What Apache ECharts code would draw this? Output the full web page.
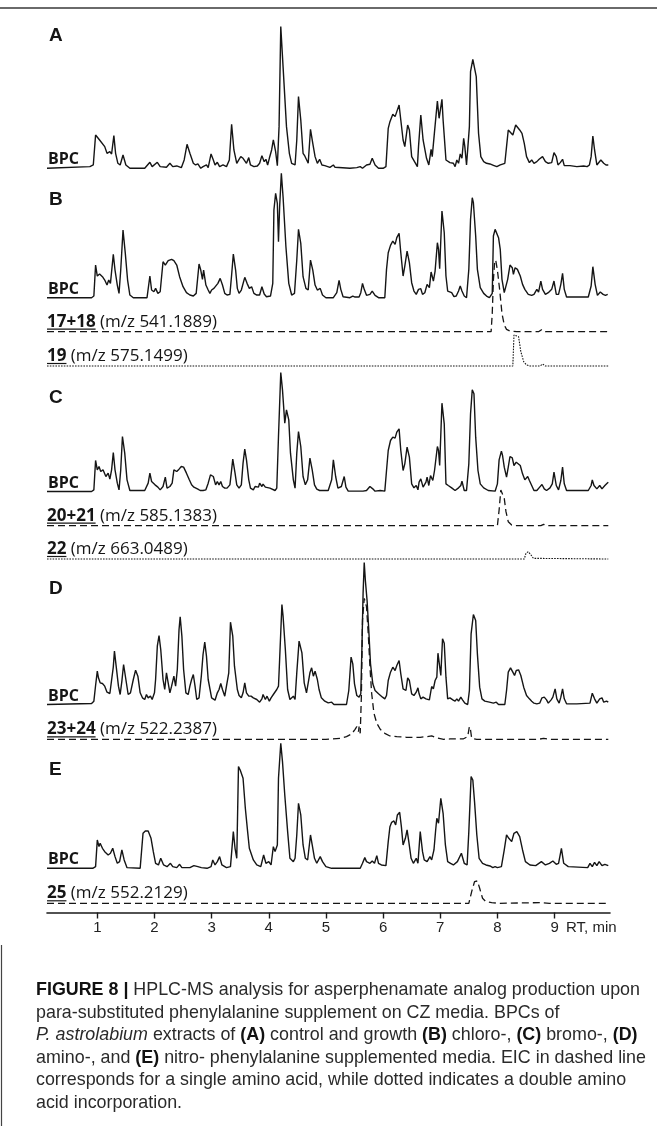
<!DOCTYPE html>
<html><head><meta charset="utf-8">
<script src="https://cdn.jsdelivr.net/npm/echarts@6/dist/echarts.min.js"></script>
<style>html,body{margin:0;padding:0;background:#fff}#c{width:657px;height:1126px}</style>
</head><body><div id="c"></div>
<script>
// ---------- DATA: [retention time (min), relative intensity (a.u.)] ----------
const bpcA = [[0.12,0],[0.87,5],[0.93,10],[0.97,100],[1.04,85],[1.13,65],[1.17,45],[1.22,50],[1.25,43],[1.29,98],[1.32,45],[1.36,15],[1.40,10],[1.45,40],[1.50,10],[1.57,0],[1.83,0],[1.92,18],[1.96,5],[2.05,18],[2.10,5],[2.21,3],[2.27,15],[2.32,5],[2.39,7],[2.47,2],[2.52,25],[2.57,72],[2.62,45],[2.68,15],[2.72,10],[2.76,13],[2.81,0],[2.85,5],[2.91,10],[2.94,2],[2.99,43],[3.03,25],[3.06,10],[3.10,18],[3.14,5],[3.20,10],[3.26,5],[3.31,25],[3.35,132],[3.39,55],[3.44,15],[3.48,27],[3.51,35],[3.55,30],[3.58,33],[3.61,15],[3.65,32],[3.68,10],[3.74,5],[3.80,7],[3.84,15],[3.88,38],[3.92,20],[3.95,27],[3.98,10],[4.01,30],[4.05,55],[4.08,85],[4.12,50],[4.15,8],[4.18,125],[4.21,425],[4.25,305],[4.31,125],[4.36,45],[4.40,15],[4.46,10],[4.49,85],[4.52,215],[4.56,145],[4.60,45],[4.63,37],[4.66,40],[4.69,15],[4.73,117],[4.77,75],[4.81,35],[4.85,15],[4.89,27],[4.93,10],[4.98,8],[5.07,3],[5.13,10],[5.16,3],[5.42,0],[5.54,2],[5.60,5],[5.64,0],[5.71,10],[5.74,5],[5.77,12],[5.81,30],[5.86,10],[5.92,0],[6.00,0],[6.05,5],[6.09,120],[6.12,140],[6.17,162],[6.21,155],[6.24,170],[6.28,190],[6.31,145],[6.35,85],[6.38,65],[6.43,130],[6.46,115],[6.50,35],[6.56,17],[6.60,5],[6.62,65],[6.66,160],[6.70,85],[6.76,30],[6.80,10],[6.84,57],[6.86,35],[6.90,110],[6.93,115],[6.95,202],[6.98,150],[7.03,207],[7.05,145],[7.10,25],[7.17,17],[7.23,15],[7.26,5],[7.29,25],[7.32,15],[7.35,43],[7.38,30],[7.41,90],[7.43,65],[7.46,10],[7.49,15],[7.51,125],[7.53,290],[7.57,327],[7.60,325],[7.63,275],[7.67,105],[7.71,35],[7.76,20],[7.81,15],[7.87,13],[7.93,9],[7.99,5],[8.05,10],[8.13,15],[8.16,65],[8.19,115],[8.22,120],[8.27,100],[8.32,130],[8.39,115],[8.43,105],[8.47,75],[8.51,35],[8.56,17],[8.60,25],[8.64,15],[8.69,20],[8.73,27],[8.79,35],[8.84,20],[8.89,15],[8.95,17],[8.99,47],[9.03,35],[9.06,10],[9.10,17],[9.14,27],[9.17,8],[9.27,8],[9.39,5],[9.51,7],[9.57,5],[9.61,10],[9.64,35],[9.67,97],[9.70,55],[9.74,10],[9.77,10],[9.81,25],[9.86,15],[9.90,10],[9.94,10]];

const bpcB = [[0.12,0],[0.9,0],[0.94,5],[0.97,98],[1.0,65],[1.04,71],[1.09,63],[1.13,53],[1.17,38],[1.2,53],[1.23,43],[1.25,78],[1.28,130],[1.31,83],[1.35,38],[1.38,13],[1.41,83],[1.45,203],[1.49,133],[1.53,53],[1.57,8],[1.63,0],[1.87,0],[1.92,65],[1.95,23],[1.99,18],[2.02,28],[2.06,13],[2.1,18],[2.15,108],[2.19,98],[2.24,111],[2.3,115],[2.34,111],[2.39,98],[2.44,63],[2.5,33],[2.56,15],[2.62,8],[2.68,5],[2.73,13],[2.78,101],[2.81,83],[2.84,55],[2.86,83],[2.9,38],[2.94,23],[2.97,13],[3.0,23],[3.04,28],[3.07,33],[3.11,43],[3.15,58],[3.19,38],[3.23,13],[3.27,8],[3.32,10],[3.35,68],[3.38,131],[3.42,83],[3.45,28],[3.48,13],[3.52,23],[3.58,61],[3.62,43],[3.66,28],[3.7,33],[3.74,13],[3.79,8],[3.84,8],[3.88,33],[3.92,11],[3.96,3],[4.03,5],[4.07,43],[4.09,263],[4.12,313],[4.15,283],[4.17,168],[4.19,273],[4.22,373],[4.25,303],[4.3,153],[4.35,43],[4.4,8],[4.45,13],[4.49,113],[4.52,205],[4.56,163],[4.6,63],[4.65,28],[4.69,23],[4.73,113],[4.77,83],[4.81,38],[4.85,23],[4.9,28],[4.94,8],[5.0,0],[5.13,0],[5.19,15],[5.23,52],[5.26,25],[5.3,3],[5.42,0],[5.47,5],[5.51,2],[5.58,2],[5.61,15],[5.64,43],[5.67,25],[5.71,7],[5.77,10],[5.81,20],[5.86,7],[5.92,0],[6.03,0],[6.06,85],[6.09,135],[6.13,157],[6.17,170],[6.21,160],[6.24,180],[6.28,193],[6.31,135],[6.35,65],[6.38,95],[6.42,140],[6.46,105],[6.5,45],[6.54,20],[6.58,10],[6.62,25],[6.66,27],[6.69,10],[6.73,15],[6.77,40],[6.81,30],[6.84,77],[6.88,50],[6.91,80],[6.95,165],[6.97,145],[6.99,87],[7.03,260],[7.07,195],[7.1,65],[7.13,20],[7.2,15],[7.24,3],[7.28,5],[7.32,20],[7.35,35],[7.38,20],[7.42,5],[7.46,0],[7.5,85],[7.53,235],[7.56,300],[7.58,285],[7.62,185],[7.65,85],[7.7,30],[7.76,13],[7.81,5],[7.86,0],[7.91,13],[7.93,185],[7.96,205],[7.99,202],[8.02,180],[8.05,145],[8.08,55],[8.12,15],[8.15,10],[8.18,55],[8.22,98],[8.26,90],[8.28,70],[8.31,90],[8.35,85],[8.4,65],[8.44,40],[8.48,25],[8.54,10],[8.6,7],[8.64,10],[8.69,25],[8.72,17],[8.76,50],[8.79,25],[8.84,10],[8.89,15],[8.95,25],[8.99,50],[9.03,10],[9.07,10],[9.11,40],[9.14,73],[9.17,25],[9.21,2],[9.39,2],[9.59,2],[9.64,35],[9.67,93],[9.71,40],[9.75,7],[9.8,17],[9.85,10],[9.89,7],[9.93,10]];

const eic1718 = [[0.12,0],[7.89,0],[7.91,55],[7.93,155],[7.95,205],[7.97,215],[8.0,185],[8.04,125],[8.08,55],[8.12,20],[8.16,7],[8.22,2],[8.34,0],[8.72,0],[8.78,7],[8.84,0],[9.94,0]];
const eic19 = [[0.12,0],[8.27,0],[8.29,93],[8.32,98],[8.37,88],[8.41,43],[8.46,13],[8.51,3],[8.57,0],[8.75,0],[8.79,6],[8.84,0],[9.94,0]];

const bpcC = [[0.12,0],[0.9,0],[0.94,5],[0.97,93],[1.0,65],[1.03,75],[1.06,60],[1.1,65],[1.15,45],[1.19,55],[1.22,37],[1.25,65],[1.28,117],[1.31,65],[1.35,25],[1.38,5],[1.41,65],[1.44,165],[1.48,115],[1.52,35],[1.57,3],[1.83,3],[1.89,25],[1.92,55],[1.95,30],[2.01,20],[2.06,13],[2.1,5],[2.15,15],[2.19,43],[2.22,10],[2.27,15],[2.31,25],[2.34,65],[2.39,60],[2.43,67],[2.47,75],[2.51,73],[2.56,55],[2.61,35],[2.65,20],[2.69,13],[2.72,17],[2.76,7],[2.8,3],[2.85,3],[2.9,5],[2.94,25],[2.98,50],[3.03,45],[3.07,20],[3.1,30],[3.13,20],[3.16,30],[3.19,15],[3.23,10],[3.27,10],[3.32,20],[3.35,65],[3.37,97],[3.41,55],[3.44,20],[3.48,10],[3.52,20],[3.55,85],[3.58,127],[3.61,95],[3.65,35],[3.68,10],[3.73,5],[3.76,15],[3.79,20],[3.82,13],[3.84,25],[3.88,15],[3.9,22],[3.94,13],[3.97,15],[4.02,10],[4.11,3],[4.14,10],[4.17,165],[4.21,357],[4.24,305],[4.28,205],[4.31,245],[4.35,215],[4.38,115],[4.43,35],[4.46,10],[4.49,115],[4.52,180],[4.56,135],[4.6,45],[4.64,20],[4.68,35],[4.72,100],[4.76,65],[4.8,20],[4.84,7],[4.89,3],[5.04,3],[5.1,35],[5.13,95],[5.17,45],[5.21,10],[5.27,15],[5.32,45],[5.35,13],[5.39,1],[5.51,1],[5.65,1],[5.71,3],[5.77,15],[5.82,8],[5.86,1],[5.95,3],[6.03,1],[6.06,63],[6.09,123],[6.13,153],[6.17,163],[6.21,160],[6.24,178],[6.28,188],[6.31,123],[6.35,63],[6.38,83],[6.42,133],[6.46,103],[6.5,23],[6.54,11],[6.58,18],[6.61,5],[6.63,28],[6.66,38],[6.7,13],[6.75,28],[6.77,43],[6.8,18],[6.83,48],[6.87,33],[6.9,63],[6.93,65],[6.95,135],[6.97,123],[6.99,78],[7.03,265],[7.07,203],[7.1,23],[7.14,18],[7.2,11],[7.26,3],[7.32,11],[7.36,18],[7.38,31],[7.42,3],[7.46,3],[7.5,83],[7.53,233],[7.56,305],[7.59,293],[7.62,163],[7.66,63],[7.7,23],[7.76,11],[7.84,3],[7.96,1],[8.0,23],[8.03,95],[8.07,121],[8.09,108],[8.12,73],[8.16,43],[8.19,73],[8.22,105],[8.26,101],[8.29,78],[8.33,88],[8.36,93],[8.4,78],[8.44,53],[8.48,35],[8.53,45],[8.56,33],[8.6,18],[8.64,3],[8.69,3],[8.74,13],[8.78,21],[8.82,8],[8.86,3],[8.92,11],[8.96,23],[8.99,58],[9.03,18],[9.07,5],[9.11,33],[9.14,73],[9.17,23],[9.21,3],[9.39,3],[9.59,3],[9.64,18],[9.66,35],[9.69,18],[9.74,8],[9.79,18],[9.83,8],[9.88,18],[9.92,25],[9.94,28]];

const eic2021 = [[0.12,0],[8.0,0],[8.03,47],[8.06,107],[8.09,105],[8.12,82],[8.15,42],[8.19,12],[8.25,2],[8.31,0],[8.76,0],[8.81,4],[8.86,0],[9.94,0]];
const eic22 = [[0.12,0],[8.47,0],[8.5,17],[8.54,22],[8.58,14],[8.63,2],[8.66,0],[9.94,0]];

const bpcD = [[0.12,0],[0.9,3],[0.94,10],[0.97,57],[1.0,100],[1.02,80],[1.05,65],[1.09,63],[1.13,55],[1.17,37],[1.22,33],[1.25,35],[1.28,113],[1.3,160],[1.33,115],[1.37,55],[1.4,30],[1.43,70],[1.46,120],[1.5,75],[1.54,30],[1.58,35],[1.63,75],[1.67,103],[1.71,85],[1.75,35],[1.79,20],[1.83,15],[1.86,30],[1.89,20],[1.93,25],[1.96,15],[2.0,35],[2.02,75],[2.05,175],[2.08,207],[2.11,165],[2.15,75],[2.18,45],[2.21,95],[2.24,65],[2.27,35],[2.3,55],[2.34,85],[2.37,55],[2.4,105],[2.43,225],[2.45,263],[2.48,205],[2.51,105],[2.55,35],[2.59,30],[2.62,55],[2.65,75],[2.68,90],[2.71,55],[2.74,15],[2.78,20],[2.82,85],[2.85,150],[2.88,187],[2.91,145],[2.94,75],[3.0,20],[3.06,13],[3.1,35],[3.13,45],[3.16,63],[3.19,45],[3.23,25],[3.26,30],[3.3,95],[3.33,247],[3.37,205],[3.4,115],[3.45,45],[3.48,27],[3.52,20],[3.55,35],[3.58,65],[3.61,35],[3.65,25],[3.69,25],[3.73,20],[3.79,15],[3.84,7],[3.88,17],[3.9,30],[3.94,15],[3.97,25],[4.01,10],[4.04,20],[4.08,30],[4.11,25],[4.14,45],[4.17,55],[4.19,135],[4.23,300],[4.25,265],[4.29,165],[4.33,45],[4.37,15],[4.4,20],[4.43,25],[4.46,15],[4.49,95],[4.53,190],[4.58,155],[4.62,65],[4.66,35],[4.69,37],[4.72,95],[4.75,110],[4.78,85],[4.81,100],[4.85,75],[4.88,45],[4.92,20],[4.98,10],[5.04,5],[5.1,7],[5.14,0],[5.36,0],[5.4,42],[5.44,142],[5.47,122],[5.5,62],[5.54,27],[5.58,22],[5.61,32],[5.63,172],[5.65,332],[5.67,426],[5.69,372],[5.72,312],[5.75,222],[5.78,122],[5.82,62],[5.86,42],[5.92,32],[5.99,22],[6.03,17],[6.06,27],[6.09,72],[6.13,97],[6.17,112],[6.21,102],[6.24,117],[6.28,132],[6.31,92],[6.35,47],[6.4,42],[6.43,80],[6.46,72],[6.5,32],[6.54,27],[6.58,37],[6.61,50],[6.63,32],[6.66,17],[6.7,22],[6.75,17],[6.77,22],[6.81,14],[6.85,54],[6.88,47],[6.91,72],[6.94,82],[6.96,154],[6.98,127],[7.01,87],[7.04,197],[7.07,184],[7.1,82],[7.13,17],[7.17,20],[7.22,14],[7.26,10],[7.29,17],[7.32,10],[7.36,22],[7.39,14],[7.43,4],[7.48,0],[7.51,42],[7.54,212],[7.58,270],[7.62,252],[7.65,152],[7.69,52],[7.73,17],[7.78,10],[7.86,7],[7.93,4],[7.98,7],[8.02,0],[8.13,0],[8.16,42],[8.19,97],[8.23,110],[8.27,97],[8.3,87],[8.33,102],[8.37,104],[8.41,87],[8.46,52],[8.51,27],[8.56,17],[8.6,10],[8.64,4],[8.69,2],[8.74,4],[8.78,20],[8.82,22],[8.86,14],[8.89,4],[8.94,14],[8.97,22],[9.01,47],[9.04,17],[9.08,4],[9.11,22],[9.14,47],[9.17,17],[9.21,2],[9.39,2],[9.62,4],[9.66,34],[9.7,17],[9.74,4],[9.79,17],[9.83,20],[9.86,7],[9.91,10],[9.94,7]];

const eic2324 = [[0.12,0],[5.0,0],[5.25,3],[5.36,8],[5.45,16],[5.51,30],[5.54,38],[5.57,23],[5.58,38],[5.6,18],[5.62,128],[5.64,358],[5.67,423],[5.69,428],[5.71,398],[5.74,318],[5.77,218],[5.8,138],[5.84,78],[5.89,48],[5.95,30],[6.03,18],[6.12,10],[6.24,8],[6.41,6],[6.65,6],[6.76,8],[6.85,10],[6.94,4],[7.06,0],[7.17,1],[7.4,1],[7.48,8],[7.51,38],[7.53,28],[7.55,3],[7.64,0],[8.72,0],[8.81,3],[8.92,0],[9.94,0]];

const bpcE = [[0.12,0],[0.92,0],[0.97,5],[1.0,85],[1.03,65],[1.05,75],[1.09,60],[1.13,50],[1.19,40],[1.23,45],[1.27,60],[1.31,35],[1.35,15],[1.39,20],[1.43,55],[1.47,25],[1.52,2],[1.75,0],[1.8,105],[1.84,112],[1.89,112],[1.94,90],[1.98,50],[2.02,15],[2.07,10],[2.11,30],[2.16,10],[2.22,5],[2.28,15],[2.32,5],[2.39,2],[2.44,12],[2.48,2],[2.62,2],[2.69,8],[2.76,5],[2.82,2],[2.92,0],[2.99,5],[3.02,25],[3.06,10],[3.1,20],[3.14,35],[3.18,10],[3.26,2],[3.33,5],[3.38,110],[3.41,60],[3.44,30],[3.47,305],[3.5,295],[3.55,270],[3.59,180],[3.63,110],[3.66,60],[3.69,55],[3.73,25],[3.79,10],[3.86,5],[3.91,40],[3.95,15],[4.0,20],[4.04,10],[4.08,65],[4.11,50],[4.15,70],[4.17,270],[4.21,375],[4.24,320],[4.28,220],[4.33,110],[4.37,30],[4.43,20],[4.46,30],[4.49,100],[4.52,195],[4.56,160],[4.6,70],[4.64,30],[4.68,25],[4.73,100],[4.76,70],[4.8,30],[4.84,15],[4.9,35],[4.94,20],[5.0,5],[5.1,0],[5.6,0],[5.64,15],[5.68,32],[5.71,20],[5.77,15],[5.81,22],[5.85,15],[5.89,38],[5.92,15],[5.97,10],[6.05,8],[6.09,80],[6.12,125],[6.15,138],[6.19,142],[6.22,130],[6.25,160],[6.29,168],[6.32,125],[6.35,70],[6.39,90],[6.42,115],[6.45,80],[6.49,30],[6.53,15],[6.58,30],[6.61,15],[6.65,110],[6.69,50],[6.72,25],[6.77,20],[6.82,35],[6.85,25],[6.89,55],[6.92,115],[6.94,150],[6.97,135],[7.01,210],[7.05,165],[7.09,70],[7.13,20],[7.18,15],[7.23,10],[7.3,20],[7.37,45],[7.42,15],[7.47,10],[7.5,110],[7.54,275],[7.57,265],[7.6,200],[7.64,100],[7.68,30],[7.74,15],[7.8,10],[7.87,7],[7.92,2],[7.96,5],[8.0,2],[8.07,5],[8.12,55],[8.16,100],[8.2,90],[8.25,80],[8.29,105],[8.34,110],[8.39,95],[8.44,55],[8.49,20],[8.57,10],[8.67,8],[8.77,20],[8.84,10],[8.91,15],[8.97,22],[9.03,12],[9.07,15],[9.12,60],[9.16,15],[9.24,5],[9.58,2],[9.62,15],[9.66,5],[9.7,18],[9.74,8],[9.78,20],[9.83,8],[9.88,12],[9.94,8]];

const eic25 = [[0.12,0],[7.5,0],[7.55,35],[7.6,65],[7.65,67],[7.69,45],[7.74,15],[7.8,5],[7.9,2],[8.04,0],[8.77,2],[8.91,0],[9.94,0]];

// ---------- TEXT ----------
const rtTicks = [1,2,3,4,5,6,7,8,9];
const axisName = 'RT, min';
const panelLetters = ['A','B','C','D','E'];
const bpcLabel = 'BPC';
const eicIds = ['17+18','19','20+21','22','23+24','25'];
const eicMz = [' (m/z 541.1889)',' (m/z 575.1499)',' (m/z 585.1383)',' (m/z 663.0489)',' (m/z 522.2387)',' (m/z 552.2129)'];
const captionLines = [
  '{b|FIGURE 8 |} HPLC-MS analysis for asperphenamate analog production upon',
  'para-substituted phenylalanine supplement on CZ media. BPCs of',
  '{i|P. astrolabium} extracts of {b|(A)} control and growth {b|(B)} chloro-, {b|(C)} bromo-, {b|(D)}',
  'amino-, and {b|(E)} nitro- phenylalanine supplemented media. EIC in dashed line',
  'corresponds for a single amino acid, while dotted indicates a double amino',
  'acid incorporation.'
];

// ---------- LAYOUT ----------
const RT_MIN = 0.12, RT_MAX = 9.97;
const PLOT_LEFT = 47, PLOT_RIGHT = 610;
const PX_PER_UNIT = 1/3;
const AXIS_Y = 912.5;
const panelLetterY = [35.3, 200, 397.3, 589, 770];
const traces = [
  {data: bpcA, base: 168.3, kind: 'bpc', panel: 0},
  {data: bpcB, base: 297.7, kind: 'bpc', panel: 1},
  {data: eic1718, base: 331.7, kind: 'dash', eic: 0},
  {data: eic19, base: 366, kind: 'dot', eic: 1},
  {data: bpcC, base: 491.5, kind: 'bpc', panel: 2},
  {data: eic2021, base: 525.7, kind: 'dash', eic: 2},
  {data: eic22, base: 559, kind: 'dot', eic: 3},
  {data: bpcD, base: 704.5, kind: 'bpc', panel: 3},
  {data: eic2324, base: 739.3, kind: 'dash', eic: 4},
  {data: bpcE, base: 868.3, kind: 'bpc', panel: 4},
  {data: eic25, base: 903.3, kind: 'dash', eic: 5}
];
const lineStyles = {
  bpc: {color: '#151515', width: 1.4, type: 'solid'},
  dash: {color: '#151515', width: 1.3, type: [7, 4]},
  dot: {color: '#151515', width: 1.1, type: [1.6, 1.2]}
};

const LABEL_FAMILY = '"Open Sans", "Noto Sans", sans-serif';
const CAP_FAMILY = '"Liberation Sans", Arial, sans-serif';
const ctx = document.createElement('canvas').getContext('2d');
function tw(font, text) { ctx.font = font; return ctx.measureText(text).width; }

const refW = tw('bold 16px ' + LABEL_FAMILY, eicIds[0]) + tw('16px ' + LABEL_FAMILY, eicMz[0]);
const LBL_SIZE = Math.min(17.5, 16 * 170 / refW);
// caption: larger font, horizontally condensed to the reference line width (~604 px)
const CAP_SIZE = 18.5;
const capW = tw('bold ' + CAP_SIZE + 'px ' + CAP_FAMILY, 'FIGURE 8 |') + tw(CAP_SIZE + 'px ' + CAP_FAMILY, ' HPLC-MS analysis for asperphenamate analog production upon');
const CAP_SX = 604 / capW;

const chart = echarts.init(document.getElementById('c'));
const grids = [], xAxes = [], yAxes = [], series = [], graphics = [];

traces.forEach((t, i) => {
  const M = Math.max(...t.data.map(d => d[1]));
  const h = M * PX_PER_UNIT;
  grids.push({left: PLOT_LEFT, width: PLOT_RIGHT - PLOT_LEFT, top: t.base - h, height: h});
  xAxes.push({gridIndex: i, type: 'value', min: RT_MIN, max: RT_MAX, show: false});
  yAxes.push({gridIndex: i, type: 'value', min: 0, max: M, show: false});
  series.push({type: 'line', xAxisIndex: i, yAxisIndex: i, data: t.data, symbol: 'none', showSymbol: false,
    clip: false, silent: true, animation: false, lineStyle: lineStyles[t.kind]});
  if (t.kind === 'bpc') {
    graphics.push({type: 'text', x: 48, y: t.base - 8.5, style: {text: bpcLabel, font: 'bold 16px ' + LABEL_FAMILY, fill: '#151515', align: 'left', verticalAlign: 'middle'}});
  } else {
    const id = eicIds[t.eic];
    graphics.push({type: 'text', x: 47, y: t.base - 10, style: {
      text: '{b|' + id + '}{r|' + eicMz[t.eic] + '}',
      fill: '#151515', align: 'left', verticalAlign: 'middle',
      rich: {b: {fontWeight: 'bold', fontSize: LBL_SIZE, fontFamily: LABEL_FAMILY, fill: '#151515'},
             r: {fontWeight: 'normal', fontSize: LBL_SIZE, fontFamily: LABEL_FAMILY, fill: '#151515'}}}});
    const w = tw('bold ' + LBL_SIZE + 'px ' + LABEL_FAMILY, id);
    graphics.push({type: 'line', shape: {x1: 47, y1: t.base - 2.5, x2: 47 + w, y2: t.base - 2.5}, style: {stroke: '#151515', lineWidth: 1.2}});
  }
});

// bottom axis grid
const ai = traces.length;
grids.push({left: PLOT_LEFT, width: PLOT_RIGHT - PLOT_LEFT, top: AXIS_Y - 10, height: 10});
xAxes.push({gridIndex: ai, type: 'value', min: RT_MIN, max: RT_MAX, position: 'bottom',
  axisLine: {show: true, lineStyle: {color: '#1a1a1a', width: 1.6}},
  axisTick: {show: true, customValues: rtTicks, length: 6, lineStyle: {color: '#1a1a1a', width: 1.4}},
  axisLabel: {show: true, customValues: rtTicks, margin: 8, fontSize: 15, fontFamily: CAP_FAMILY, color: '#222'},
  splitLine: {show: false},
  name: axisName, nameLocation: 'end', nameGap: -44,
  nameTextStyle: {fontSize: 15, fontFamily: CAP_FAMILY, color: '#222', align: 'left', verticalAlign: 'top', padding: [8, 0, 0, 0]}
});
yAxes.push({gridIndex: ai, type: 'value', show: false, min: 0, max: 1});

// frame lines
graphics.push({type: 'line', shape: {x1: 0, y1: 8, x2: 657, y2: 8}, style: {stroke: '#6a6a6a', lineWidth: 2}});
graphics.push({type: 'line', shape: {x1: 1.5, y1: 945, x2: 1.5, y2: 1126}, style: {stroke: '#444', lineWidth: 1.2}});

// panel letters
panelLetters.forEach((L, k) => {
  graphics.push({type: 'text', x: 49, y: panelLetterY[k], style: {text: L, font: 'bold 19px "Liberation Sans", Arial, sans-serif', fill: '#151515', align: 'left', verticalAlign: 'middle'}});
});

// caption
const capY0 = 990, capStep = 22.5;
captionLines.forEach((ln, k) => {
  graphics.push({type: 'text', x: 36, y: capY0 + k * capStep, scaleX: CAP_SX, style: {
    text: ln, fill: '#2a2a2a', align: 'left', verticalAlign: 'middle',
    fontSize: CAP_SIZE, fontFamily: CAP_FAMILY,
    rich: {
      b: {fontWeight: 'bold', fontSize: CAP_SIZE, fontFamily: CAP_FAMILY, fill: '#111'},
      i: {fontStyle: 'italic', fontSize: CAP_SIZE, fontFamily: CAP_FAMILY, fill: '#2a2a2a'}
    }}});
});

chart.setOption({
  animation: false,
  backgroundColor: '#fff',
  grid: grids, xAxis: xAxes, yAxis: yAxes, series: series, graphic: graphics
});
</script></body></html>
